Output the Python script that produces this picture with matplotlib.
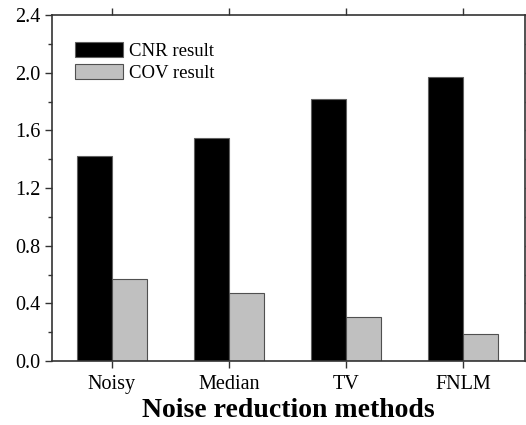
import numpy as np
import matplotlib.pyplot as plt
from matplotlib.ticker import MultipleLocator

methods = ['Noisy', 'Median', 'TV', 'FNLM']
cnr = [1.425, 1.55, 1.82, 1.97]
cov = [0.567, 0.475, 0.302, 0.19]

plt.rcParams['font.family'] = ['Liberation Serif', 'DejaVu Serif']

fig = plt.figure(figsize=(5.26, 4.25), dpi=100)
ax = fig.add_axes([0.099, 0.1506, 0.899, 0.814])

x = np.arange(1, len(methods) + 1)
w = 0.3
ax.bar(x - w / 2, cnr, w, color='black', edgecolor='#606060', linewidth=0.8, label='CNR result')
ax.bar(x + w / 2, cov, w, color='#c0c0c0', edgecolor='#505050', linewidth=0.8, label='COV result')

ax.set_xlim(0.49, 4.53)
ax.set_ylim(0, 2.4)
ax.set_xticks(x)
ax.set_xticklabels(methods)
ax.yaxis.set_major_locator(MultipleLocator(0.4))
ax.yaxis.set_minor_locator(MultipleLocator(0.2))
ax.yaxis.set_major_formatter(plt.FormatStrFormatter('%.1f'))

ax.tick_params(axis='both', which='both', labelsize=14.5, width=1.0, color='#333333')
ax.tick_params(axis='both', which='major', length=5)
ax.tick_params(axis='y', which='minor', length=3)
ax.tick_params(top=True, right=True, which='both')
ax.tick_params(axis='x', which='minor', bottom=False, top=False)
ax.tick_params(axis='x', which='major', pad=5)

for s in ax.spines.values():
    s.set_linewidth(1.2)
    s.set_color('#333333')

ax.set_xlabel('Noise reduction methods', fontsize=20, fontweight='bold', labelpad=3)

ax.legend(loc='upper left', bbox_to_anchor=(0.025, 0.955), frameon=False, fontsize=13.5,
          handlelength=2.55, handleheight=0.9, labelspacing=0.2, handletextpad=0.3,
          borderaxespad=0.2)

fig.savefig('out.png', dpi=100)
